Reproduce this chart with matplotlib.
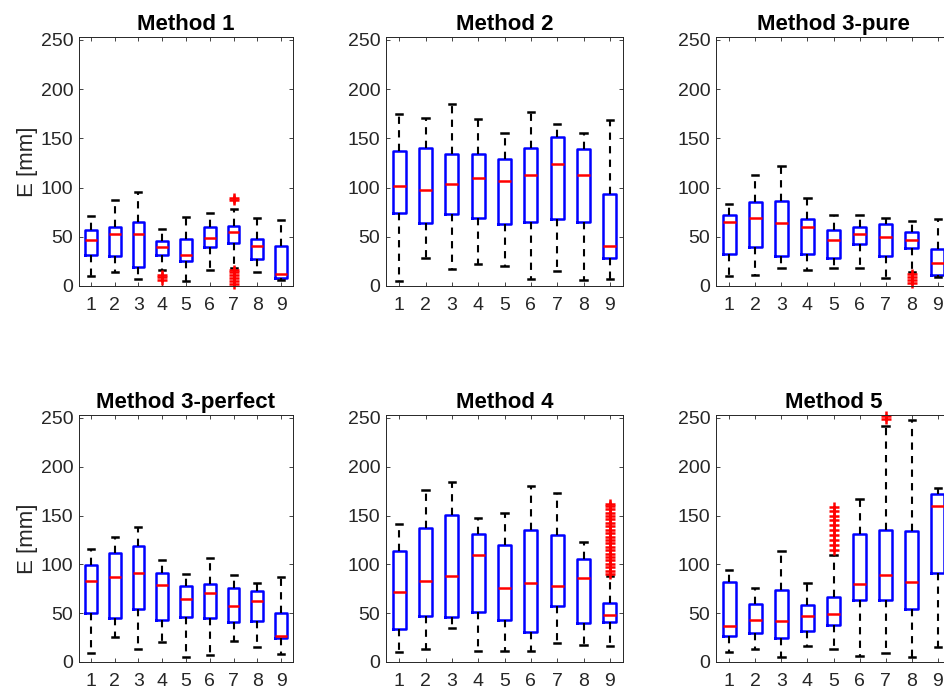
import matplotlib
matplotlib.use("Agg")
import matplotlib.pyplot as plt

plt.rcParams["font.family"] = ["Liberation Sans", "DejaVu Sans"]

titles = ["Method 1", "Method 2", "Method 3-pure",
          "Method 3-perfect", "Method 4", "Method 5"]
groups = [1, 2, 3, 4, 5, 6, 7, 8, 9]
yticks = [0, 50, 100, 150, 200, 250]

# Method 1
m1_q1 = [31.8, 30.4, 19.3, 31.0, 25.0, 39.5, 43.6, 27.0, 8.4]
m1_med = [46.3, 53.0, 52.4, 39.5, 31.4, 49.0, 54.7, 40.2, 12.5]
m1_q3 = [56.4, 59.8, 65.5, 46.0, 47.6, 59.8, 60.8, 47.6, 40.2]
m1_lo = [9.8, 14.2, 7.1, 16.0, 4.7, 16.6, 18.0, 14.2, 6.4]
m1_hi = [71.6, 87.8, 95.3, 58.0, 70.6, 74.3, 78.0, 69.3, 66.6]
m1_fl = [[], [], [], [6.5, 9, 11.5], [], [],
         [2, 5, 8, 11, 14, 16.5, 87.5, 89.5], [], []]

# Method 2
m2_q1 = [74.0, 63.9, 73.3, 69.6, 62.5, 64.9, 67.6, 65.2, 28.4]
m2_med = [102.0, 97.6, 103.4, 110.1, 106.4, 112.5, 124.0, 112.5, 40.9]
m2_q3 = [137.2, 139.9, 134.1, 134.1, 128.7, 140.5, 151.7, 139.5, 93.2]
m2_lo = [4.7, 28.7, 17.2, 22.6, 20.3, 7.4, 14.9, 6.4, 7.1]
m2_hi = [175.0, 171.0, 185.0, 170.0, 155.0, 177.0, 164.9, 155.0, 169.0]
m2_fl = [[], [], [], [], [], [], [], [], []]

# Method 3-pure
m3_q1 = [32.8, 39.5, 30.4, 32.4, 28.4, 42.9, 30.7, 38.2, 10.8]
m3_med = [64.9, 68.9, 63.9, 59.8, 46.3, 52.7, 49.7, 46.6, 23.0]
m3_q3 = [72.0, 85.1, 86.5, 68.2, 57.1, 59.8, 62.5, 54.7, 37.2]
m3_lo = [10.5, 11.1, 18.6, 15.9, 18.6, 18.6, 8.1, 14.2, 9.1]
m3_hi = [83.1, 112.8, 122.3, 89.9, 72.0, 72.3, 68.6, 66.2, 67.6]
m3_fl = [[], [], [], [], [], [], [], [3.5, 6.5, 9.5, 12], []]

# Method 3-perfect
m3p_q1 = [49.8, 45.4, 54.3, 43.0, 46.1, 45.4, 40.6, 41.6, 24.2]
m3p_med = [83.3, 87.4, 90.8, 79.2, 64.5, 70.3, 57.3, 62.1, 26.6]
m3p_q3 = [99.3, 111.6, 118.4, 90.8, 77.8, 79.5, 75.4, 73.0, 50.5]
m3p_lo = [9.6, 25.6, 13.3, 20.1, 5.5, 7.2, 21.2, 15.4, 7.9]
m3p_hi = [116.0, 127.6, 137.9, 104.0, 90.1, 106.8, 88.7, 80.9, 87.4]
m3p_fl = [[], [], [], [], [], [], [], [], []]

# Method 4
m4_q1 = [33.4, 46.8, 46.1, 51.2, 43.0, 31.1, 57.0, 39.9, 41.0]
m4_med = [71.3, 83.3, 88.4, 109.9, 75.4, 80.5, 78.2, 85.7, 48.1]
m4_q3 = [113.3, 137.5, 150.2, 131.4, 119.5, 135.5, 130.4, 105.8, 60.4]
m4_lo = [9.9, 13.3, 34.8, 11.6, 11.6, 11.6, 19.5, 17.1, 16.7]
m4_hi = [141.6, 175.8, 184.0, 147.8, 152.6, 179.9, 173.4, 122.5, 87.7]
m4_fl = [[], [], [], [], [], [], [], [],
         [90, 93.5, 97, 100.5, 104, 107.5, 111, 114.5, 118, 121.5, 125,
          128.5, 132, 135.5, 139, 142.5, 146, 149.5, 153, 156.5, 160, 162]]

# Method 5
m5_q1 = [27.0, 29.4, 24.2, 32.1, 37.5, 63.1, 63.8, 54.6, 91.1]
m5_med = [36.5, 43.3, 42.0, 46.8, 49.5, 79.5, 89.4, 82.3, 159.4]
m5_q3 = [82.3, 59.7, 74.1, 58.7, 66.9, 131.4, 135.5, 133.8, 172.0]
m5_lo = [10.6, 13.3, 5.5, 16.0, 13.3, 6.5, 9.2, 5.1, 15.0]
m5_hi = [94.2, 75.4, 114.0, 80.9, 109.6, 167.2, 242.0, 248.0, 178.0]
m5_fl = [[], [], [], [],
         [115, 120, 125, 130, 135, 140, 145, 150, 155, 159],
         [], [249, 252], [], []]

panels = [
    (m1_q1, m1_med, m1_q3, m1_lo, m1_hi, m1_fl),
    (m2_q1, m2_med, m2_q3, m2_lo, m2_hi, m2_fl),
    (m3_q1, m3_med, m3_q3, m3_lo, m3_hi, m3_fl),
    (m3p_q1, m3p_med, m3p_q3, m3p_lo, m3p_hi, m3p_fl),
    (m4_q1, m4_med, m4_q3, m4_lo, m4_hi, m4_fl),
    (m5_q1, m5_med, m5_q3, m5_lo, m5_hi, m5_fl),
]

W, H = 944, 693
# axes rectangles in pixels: left, top, width, height
rects = [(79, 37, 214, 249), (386, 37, 237, 249), (716, 37, 235, 249),
         (79, 415, 214, 247), (386, 415, 237, 247), (716, 415, 235, 247)]

fig = plt.figure(figsize=(W / 100, H / 100), dpi=100)
gray = "0.15"

for i, (title, data, r) in enumerate(zip(titles, panels, rects)):
    l, t, w, h = r
    ax = fig.add_axes([l / W, (H - t - h) / H, w / W, h / H])
    q1, med, q3, lo, hi, fl = data
    stats = []
    for k in range(len(groups)):
        stats.append({"q1": q1[k], "med": med[k], "q3": q3[k],
                      "whislo": lo[k], "whishi": hi[k], "fliers": fl[k]})
    parts = ax.bxp(stats, positions=groups, widths=0.5, capwidths=0.25,
                   boxprops=dict(color="blue", linewidth=1.8),
                   medianprops=dict(color="red", linewidth=1.8),
                   whiskerprops=dict(color="black", linewidth=1.5,
                                     linestyle=(0, (3.5, 3))),
                   capprops=dict(color="black", linewidth=1.8),
                   flierprops=dict(marker="+", markeredgecolor="red",
                                   markersize=6.5, markeredgewidth=1.8,
                                   linestyle="none"))
    for f in parts["fliers"]:
        f.set_clip_on(False)
    ax.set_xlim(0.5, 9.5)
    ax.set_ylim(0, 253)
    ax.set_xticks(groups)
    ax.set_xticklabels([str(g) for g in groups])
    ax.set_yticks(yticks)
    ax.tick_params(direction="in", length=3, width=0.6, colors=gray,
                   labelsize=14, top=True, right=True)
    ax.tick_params(axis="x", pad=8)
    ax.tick_params(axis="y", pad=4)
    for s in ax.spines.values():
        s.set_color(gray)
        s.set_linewidth(0.7)
    ax.set_title(title, fontsize=16, fontweight="bold", pad=5)
    if i % 3 == 0:
        ax.set_ylabel("E [mm]", fontsize=16, color=gray, labelpad=2)

fig.savefig("out.png", dpi=100)
